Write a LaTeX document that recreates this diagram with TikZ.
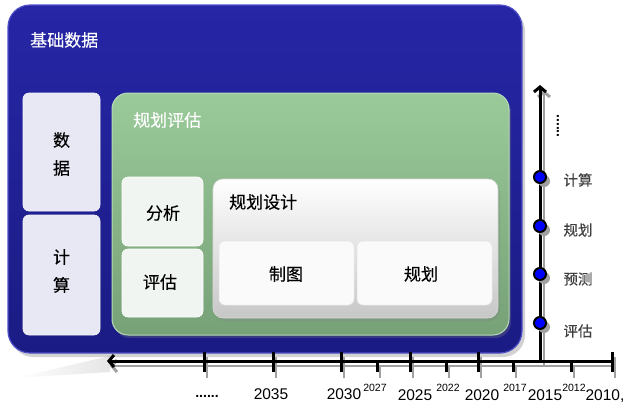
\documentclass[tikz,border=0pt]{standalone}
\usepackage{fontspec}
\setmainfont{Liberation Sans}
\newfontfamily\cjk[FakeBold=0.3]{Noto Sans CJK SC}
\usetikzlibrary{arrows.meta,shadows}
\definecolor{blueTop}{HTML}{2626A6}
\definecolor{blueBot}{HTML}{1B1B84}
\definecolor{blueEdge}{HTML}{5050C8}
\definecolor{lav}{HTML}{E8E8F4}
\definecolor{greenTop}{HTML}{9ACA9A}
\definecolor{greenBot}{HTML}{77A177}
\definecolor{greenEdge}{HTML}{B8DCB8}
\definecolor{paleGreen}{HTML}{F1F5F1}
\definecolor{inner}{HTML}{FAFAFA}
\definecolor{dotBlue}{HTML}{0000FF}
\definecolor{axShadow}{HTML}{A0A0A0}
\begin{document}
\begin{tikzpicture}[x=1pt,y=-1pt,
  bigbox/.style={draw=blueEdge, line width=1.2pt, rounded corners=22pt, top color=blueTop, bottom color=blueBot, inner sep=0pt,
    drop shadow={shadow xshift=3pt, shadow yshift=-4pt, opacity=0.35}},
  sidebox/.style={draw=white!60!lav, line width=0.6pt, fill=lav, rounded corners=6pt, inner sep=0pt},
  greenbox/.style={draw=greenEdge, line width=1pt, rounded corners=16pt, top color=greenTop, bottom color=greenBot, inner sep=0pt,
    drop shadow={shadow xshift=2pt, shadow yshift=-3pt, opacity=0.3}},
  palebox/.style={draw=white, line width=0.6pt, fill=paleGreen, rounded corners=6pt, inner sep=0pt},
  designbox/.style={draw=white!85!black, line width=0.6pt, rounded corners=10pt, top color=white, bottom color=black!22, inner sep=0pt,
    drop shadow={shadow xshift=2pt, shadow yshift=-3pt, opacity=0.3}},
  innerbox/.style={draw=white!90!black, line width=0.5pt, fill=inner, rounded corners=6pt, inner sep=0pt},
  cjkbig/.style={font=\cjk\fontsize{17}{28}\selectfont, inner sep=0pt},
  cjkax/.style={font=\cjk\fontsize{14.5}{16}\selectfont, text=black!75, inner sep=0pt},
  yearbig/.style={font=\fontsize{15.5}{16}\selectfont, anchor=base, inner sep=0pt},
  yearsmall/.style={font=\fontsize{10.5}{11}\selectfont, anchor=base, inner sep=0pt},
  axline/.style={line width=3pt},
  axshadow/.style={line width=2.5pt, draw=axShadow},
  axtip/.style={-{Straight Barb[length=5pt,width=12pt,line width=3pt]}},
  dot/.style={circle, draw=black, line width=2pt, fill=dotBlue, minimum size=12pt, inner sep=0pt},
  dotshadow/.style={circle, fill=axShadow, minimum size=12pt, inner sep=0pt}
]
\useasboundingbox (0,0) rectangle (625,408);
\fill[white] (0,0) rectangle (625,408);

% faint shadow wedge under the base box
\shade[left color=white, right color=black!10] (15,378) -- (110,356) -- (110,372) -- cycle;

% base box
\node[bigbox, minimum width=514pt, minimum height=348pt] (base) at (265,179) {};
\node[cjkbig, text=white, anchor=west] (baseT) at (30,40) {基础数据};

% left side boxes
\node[sidebox, minimum width=77pt, minimum height=118pt] (data) at (61.5,152) {};
\node[cjkbig, align=center] (dataT) at (61.5,154) {数\\据};
\node[sidebox, minimum width=77pt, minimum height=120pt] (calc) at (61.5,275) {};
\node[cjkbig, align=center] (calcT) at (61.5,271) {计\\算};

% green box
\node[greenbox, minimum width=397pt, minimum height=242pt] (green) at (310.5,214) {};
\node[cjkbig, text=white, anchor=west] (greenT) at (133,120) {规划评估};

\node[palebox, minimum width=81pt, minimum height=69pt] (fx) at (162.5,211.5) {};
\node[cjkbig] (fxT) at (163,213) {分析};
\node[palebox, minimum width=81pt, minimum height=68pt] (pg) at (162.5,283) {};
\node[cjkbig] (pgT) at (160,282) {评估};

% design box
\node[designbox, minimum width=285pt, minimum height=139pt] (design) at (355.5,248.5) {};
\node[cjkbig, anchor=west] (designT) at (229,202) {规划设计};
\node[innerbox, minimum width=135pt, minimum height=64pt] (zt) at (286.5,273) {};
\node[cjkbig] (ztT) at (286,274) {制图};
\node[innerbox, minimum width=135pt, minimum height=64pt] (gh) at (424.5,273) {};
\node[cjkbig] (ghT) at (421,274) {规划};

% timeline coordinates
\coordinate (xend) at (612,361);
\coordinate (xtip) at (107,361);
\coordinate (yorig) at (540,361);
\coordinate (ytip) at (540,85);

% shadows of axes
\draw[axshadow, axtip] ([shift={(3,5)}]xend) -- ([shift={(3,5)}]xtip);
\draw[axshadow, axtip] ([shift={(4,5)}]yorig) -- ([shift={(4,5)}]ytip);
\foreach \x in {204,273,341,410,478,612} \draw[axshadow] (\x+3,357) -- (\x+3,378);
\foreach \x in {377,446,513,571} \draw[axshadow] (\x+3,366) -- (\x+3,378);

% axes
\draw[axline, axtip] (xend) -- (xtip);
\draw[axline, axtip] (yorig) -- (ytip);
\foreach \x in {204,273,341,410,478,612} \draw[axline] (\x,352) -- (\x,372);
\foreach \x in {377,446,513,571} \draw[axline] (\x,361) -- (\x,372);

% dots on the vertical axis
\foreach \y/\n in {177/d1,226/d2,274/d3,323/d4} {
  \node[dotshadow] at (544,\y+4) {};
  \node[dot] (\n) at (540,\y) {};
}
\node[cjkax] (l1) at (578,180) {计算};
\node[cjkax] (l2) at (578,230) {规划};
\node[cjkax] (l3) at (578,279) {预测};
\node[cjkax] (l4) at (578,331) {评估};
\node[font=\bfseries\fontsize{14}{14}\selectfont, rotate=-90, inner sep=0pt] (vdots) at (558,126) {......};

% year labels
\node[yearbig, font=\bfseries\fontsize{14}{14}\selectfont] (ydots) at (207,397) {......};
\node[yearbig] (y2035) at (271,399) {2035};
\node[yearbig] (y2030) at (344,399) {2030};
\node[yearsmall] (y2027) at (375,391) {2027};
\node[yearbig] (y2025) at (415,400) {2025};
\node[yearsmall] (y2022) at (448,391) {2022};
\node[yearbig] (y2020) at (482,400) {2020};
\node[yearsmall] (y2017) at (515,391) {2017};
\node[yearbig] (y2015) at (545,400) {2015};
\node[yearsmall] (y2012) at (574,391) {2012};
\node[yearbig] (y2010) at (605,400) {2010,};
\end{tikzpicture}
\end{document}
